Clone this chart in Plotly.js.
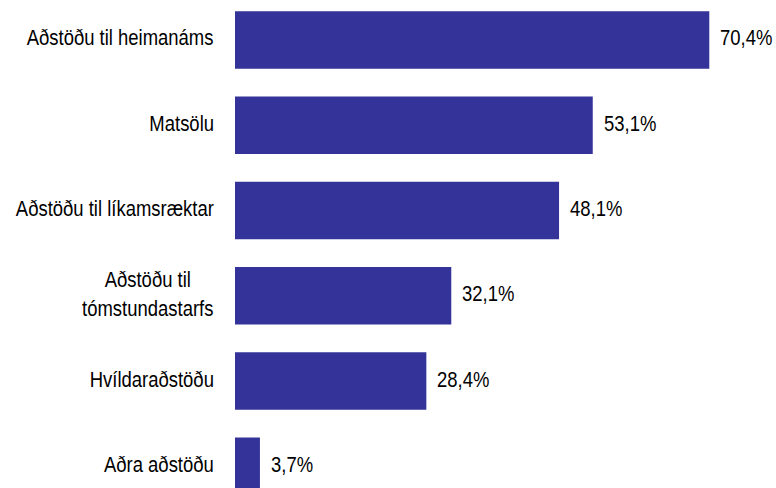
<!DOCTYPE html>
<html>
<head>
<meta charset="utf-8">
<script src="https://cdn.plot.ly/plotly-3.0.1.min.js"></script>
<style>html,body{margin:0;padding:0;background:#fff;}#chart{width:776px;height:488px;}</style>
</head>
<body>
<div id="chart"></div>
<script>
var categories = ["Aðstöðu til heimanáms", "Matsölu", "Aðstöðu til líkamsræktar", "Aðstöðu til<br>tómstundastarfs", "Hvíldaraðstöðu", "Aðra aðstöðu"];
var values = [70.4, 53.1, 48.1, 32.1, 28.4, 3.7];
var valueLabels = values.map(function(v){ return v.toFixed(1).replace('.', ',') + '%'; });

var FONT = '"Liberation Sans", Arial, Helvetica, sans-serif';
var NARROW = 0.84;
var annotations = [];
categories.forEach(function(c, i){
  annotations.push({x: 0, xref: 'paper', y: c, yref: 'y', xanchor: 'right', yanchor: 'middle',
    xshift: -19, yshift: 2, text: c, showarrow: false, align: 'center',
    font: {family: FONT, size: 22, color: '#000'}});
  annotations.push({x: values[i], xref: 'x', y: c, yref: 'y', xanchor: 'left', yanchor: 'middle',
    xshift: 9, yshift: 2, text: valueLabels[i], showarrow: false,
    font: {family: FONT, size: 22, color: '#000'}});
});

var trace = {
  type: 'bar', orientation: 'h', x: values, y: categories,
  marker: {color: '#333399', line: {width: 0}},
  hoverinfo: 'none'
};
var layout = {
  width: 776, height: 488,
  margin: {l: 235, r: 0, t: 0, b: 0, pad: 0},
  paper_bgcolor: '#fff', plot_bgcolor: '#fff',
  bargap: 0.325,
  showlegend: false,
  xaxis: {range: [0, 80.3], visible: false, fixedrange: true},
  yaxis: {type: 'category', range: [5.255, -0.469], showticklabels: false, showgrid: false,
    zeroline: false, showline: false, ticks: '', fixedrange: true},
  annotations: annotations
};
Plotly.newPlot('chart', [trace], layout, {displayModeBar: false, staticPlot: true}).then(function(gd){
  // emulate the condensed typeface of the original: squeeze each label horizontally
  var texts = gd.querySelectorAll('.annotation-text');
  texts.forEach(function(t, k){
    var bb = t.getBBox();
    var isCat = (k % 2 === 0);
    var fx = isCat ? bb.x + bb.width : bb.x;
    t.setAttribute('transform', 'translate(' + fx + ',0) scale(' + NARROW + ',1) translate(' + (-fx) + ',0)');
  });
});
</script>
</body>
</html>
